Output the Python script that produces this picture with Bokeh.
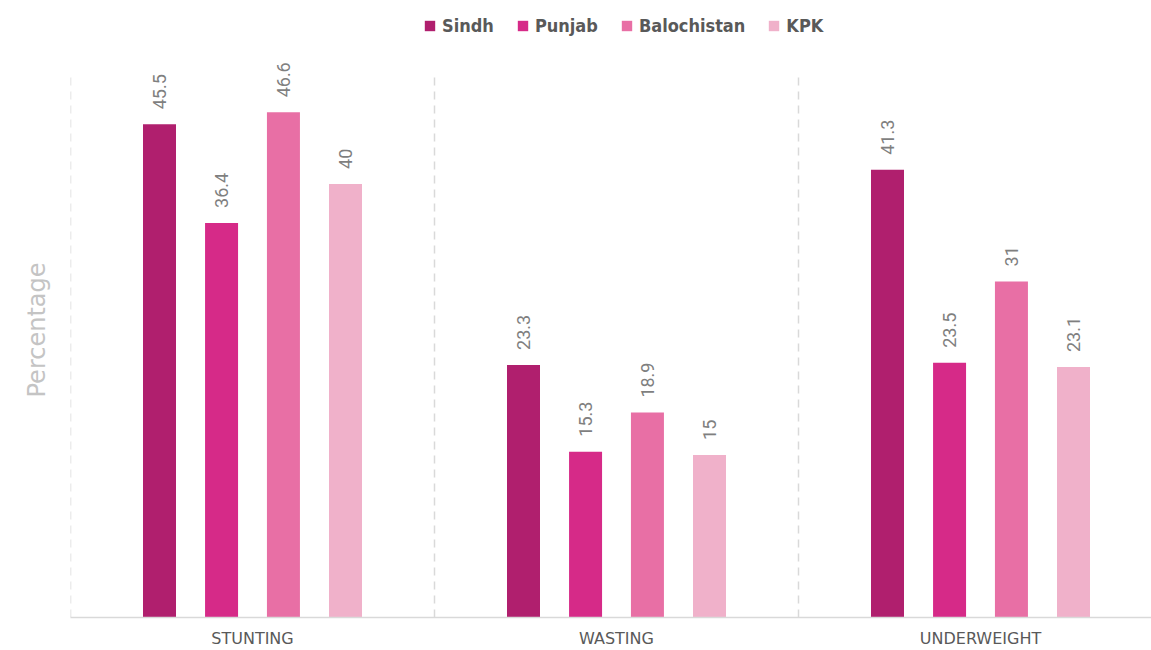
import math
from bokeh.plotting import figure
from bokeh.models import ColumnDataSource, Legend, LegendItem, FixedTicker, Title
from bokeh.core.properties import value
from bokeh.embed import file_html
from bokeh.resources import INLINE

categories = ["STUNTING", "WASTING", "UNDERWEIGHT"]
series_names = ["Sindh", "Punjab", "Balochistan", "KPK"]
sindh = [45.5, 23.3, 41.3]
punjab = [36.4, 15.3, 23.5]
balochistan = [46.6, 18.9, 31.0]
kpk = [40.0, 15.0, 23.1]
colors = ["#B01F6E", "#D62A88", "#E86FA5", "#F0B1CA"]
label_texts = [
    ["45.5", "23.3", "41.3"],
    ["36.4", "15.3", "23.5"],
    ["46.6", "18.9", "31"],
    ["40", "15", "23.1"],
]
all_values = [sindh, punjab, balochistan, kpk]

W, H = 1151, 650
px_per_group = 364.0
frame_left = 70
frame_bottom_border = 33
frame_w = W - frame_left
frame_h = H - frame_bottom_border
px_per_unit = 10.84

p = figure(width=W, height=H, output_backend="svg", toolbar_location=None,
           x_range=(0, frame_w / px_per_group), y_range=(0, frame_h / px_per_unit),
           min_border_left=frame_left, min_border_right=0, min_border_top=0,
           min_border_bottom=frame_bottom_border)
p.outline_line_color = None
p.xgrid.visible = False
p.ygrid.visible = False
p.yaxis.visible = False

ytitle = Title(text="Percentage", align="left", offset=220, standoff=40,
               text_font="DejaVu Sans", text_font_style="normal",
               text_font_size="24px", text_color="#c4c4c4")
p.add_layout(ytitle, "left")

# dashed group separators
p.segment(x0=[0, 1, 2, 3], y0=[0, 0, 0, 0], x1=[0, 1, 2, 3], y1=[50, 50, 50, 50],
          line_color="#d9d9d9", line_width=1.5, line_dash="8 6")

offsets = [-0.2555, -0.085, 0.085, 0.2555]
bar_w = 33 / px_per_group
items = []
for k, (name, vals, col) in enumerate(zip(series_names, all_values, colors)):
    xs = [i + 0.5 + offsets[k] for i in range(len(categories))]
    src = ColumnDataSource(dict(x=xs, top=vals, lab=label_texts[k]))
    r = p.vbar(x="x", top="top", width=bar_w, bottom=0, source=src,
               fill_color=col, line_color=None)
    items.append(LegendItem(label=name, renderers=[r]))
    p.text(x="x", y="top", text="lab", source=src, angle=math.pi / 2,
           text_align="left", text_baseline="middle", y_offset=-15,
           text_font=value("Roboto"), text_font_size="18px", text_color="#7f7f7f")

legend = Legend(items=items, orientation="horizontal", location=(353, 581),
                border_line_color=None, background_fill_alpha=0,
                label_text_font="'DejaVu Sans Condensed', Roboto", label_text_font_style="bold",
                label_text_font_size="18px", label_text_color="#595959",
                glyph_width=13, glyph_height=13, spacing=22, label_standoff=6,
                padding=0, margin=0)
p.add_layout(legend)

p.xaxis.ticker = FixedTicker(ticks=[0.5, 1.5, 2.5])
p.xaxis.major_label_overrides = {0.5: categories[0], 1.5: categories[1], 2.5: categories[2]}
p.xaxis.axis_line_color = "#d9d9d9"
p.xaxis.axis_line_width = 1.5
p.xaxis.major_tick_line_color = None
p.xaxis.minor_tick_line_color = None
p.xaxis.major_tick_out = 0
p.xaxis.major_tick_in = 0
p.xaxis.minor_tick_out = 0
p.xaxis.major_label_standoff = 11
p.xaxis.major_label_text_font = "DejaVu Sans"
p.xaxis.major_label_text_font_size = "16px"
p.xaxis.major_label_text_color = "#595959"

open("out.html", "w").write(file_html(p, INLINE))
